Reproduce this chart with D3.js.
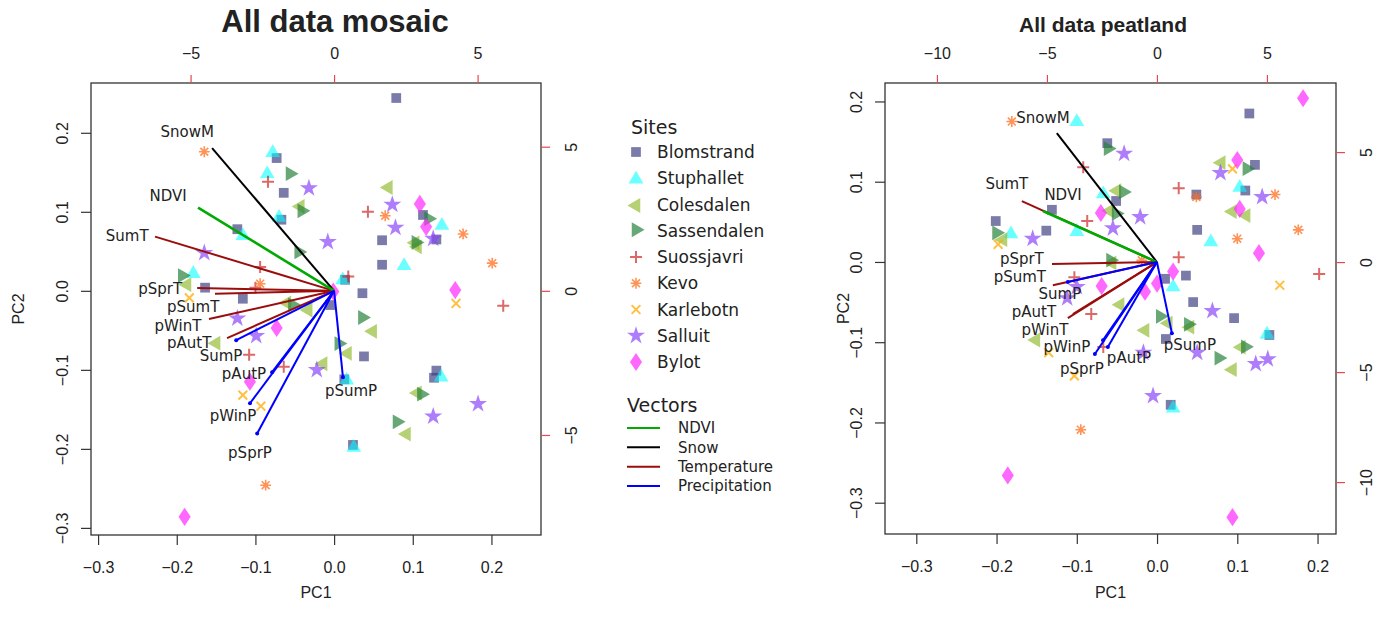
<!DOCTYPE html>
<html>
<head>
<meta charset="utf-8">
<script src="https://cdn.jsdelivr.net/npm/d3@7"></script>
<style>
  body { margin: 0; background: #fff; }
  svg text { font-family: "DejaVu Sans", sans-serif; fill: #222; }
  .axis text { font-family: "Liberation Sans", Arial, sans-serif; font-size: 16px; fill: #222; }
</style>
</head>
<body>
<svg id="chart" width="1385" height="617"></svg>
<script>
(function () {

  // sites, in legend order
  const sites = ['Blomstrand', 'Stuphallet', 'Colesdalen', 'Sassendalen', 'Suossjavri',
                 'Kevo', 'Karlebotn', 'Salluit', 'Bylot'];

  // vectors
  const vectorNames = ['SnowM', 'NDVI', 'SumT', 'pSprT', 'pSumT', 'pWinT', 'pAutT',
                       'SumP', 'pAutP', 'pWinP', 'pSprP', 'pSumP'];
  const vectorGroups = ['Snow', 'NDVI', 'Temperature', 'Temperature', 'Temperature', 'Temperature',
                        'Temperature', 'Precipitation', 'Precipitation', 'Precipitation',
                        'Precipitation', 'Precipitation'];
  const legendGroups = ['NDVI', 'Snow', 'Temperature', 'Precipitation'];

  // tick labels
  const pcTicks = [-0.3, -0.2, -0.1, 0.0, 0.1, 0.2];
  const mosaicTicks2 = [-5, 0, 5];
  const peatTicks2 = [-10, -5, 0, 5];

  // ---- All data mosaic ----
  // site scores [site, PC1, PC2]
  const mosaicPoints = [
    ['Blomstrand', -0.073, 0.168], ['Blomstrand', -0.064, 0.124], ['Blomstrand', -0.067, 0.090],
    ['Blomstrand', -0.123, 0.078], ['Blomstrand', -0.164, 0.004], ['Blomstrand', -0.116, -0.010],
    ['Blomstrand', -0.005, -0.018], ['Blomstrand', 0.038, -0.083], ['Blomstrand', 0.036, -0.003],
    ['Blomstrand', 0.061, 0.033], ['Blomstrand', 0.061, 0.064], ['Blomstrand', 0.014, 0.014],
    ['Blomstrand', 0.013, -0.112], ['Blomstrand', 0.130, -0.101], ['Blomstrand', 0.127, -0.110],
    ['Blomstrand', 0.024, -0.195], ['Blomstrand', 0.079, 0.244], ['Blomstrand', 0.113, 0.096],
    ['Blomstrand', 0.130, 0.065],
    ['Stuphallet', -0.078, 0.176], ['Stuphallet', -0.085, 0.149], ['Stuphallet', -0.070, 0.094],
    ['Stuphallet', -0.116, 0.071], ['Stuphallet', -0.179, 0.023], ['Stuphallet', 0.011, 0.015],
    ['Stuphallet', 0.016, -0.112], ['Stuphallet', 0.136, -0.108], ['Stuphallet', 0.025, -0.197],
    ['Stuphallet', 0.089, 0.033], ['Stuphallet', 0.137, 0.084],
    ['Colesdalen', -0.043, 0.108], ['Colesdalen', -0.187, 0.009], ['Colesdalen', -0.060, -0.014],
    ['Colesdalen', -0.033, -0.023], ['Colesdalen', -0.150, -0.065], ['Colesdalen', -0.014, -0.091],
    ['Colesdalen', 0.017, -0.078], ['Colesdalen', 0.049, -0.050], ['Colesdalen', 0.106, -0.128],
    ['Colesdalen', 0.092, -0.180], ['Colesdalen', 0.069, 0.132], ['Colesdalen', 0.103, 0.062],
    ['Colesdalen', 0.106, 0.057],
    ['Sassendalen', -0.056, 0.147], ['Sassendalen', -0.041, 0.100], ['Sassendalen', -0.045, 0.048],
    ['Sassendalen', -0.193, 0.018], ['Sassendalen', -0.053, -0.019], ['Sassendalen', 0.006, -0.068],
    ['Sassendalen', 0.036, -0.035], ['Sassendalen', 0.111, -0.132], ['Sassendalen', 0.080, -0.167],
    ['Sassendalen', 0.120, 0.090], ['Sassendalen', 0.104, 0.060],
    ['Suossjavri', -0.084, 0.138], ['Suossjavri', -0.094, 0.030], ['Suossjavri', -0.100, 0.004],
    ['Suossjavri', -0.108, -0.081], ['Suossjavri', -0.064, -0.096], ['Suossjavri', 0.043, 0.100],
    ['Suossjavri', 0.018, 0.018], ['Suossjavri', 0.215, -0.019],
    ['Kevo', -0.165, 0.176], ['Kevo', -0.094, 0.009], ['Kevo', -0.087, -0.246],
    ['Kevo', 0.065, 0.095], ['Kevo', 0.164, 0.072], ['Kevo', 0.201, 0.035],
    ['Karlebotn', -0.184, -0.009], ['Karlebotn', -0.116, -0.132], ['Karlebotn', -0.093, -0.146],
    ['Karlebotn', 0.155, -0.016],
    ['Salluit', -0.032, 0.130], ['Salluit', -0.008, 0.062], ['Salluit', -0.165, 0.048],
    ['Salluit', -0.123, -0.035], ['Salluit', -0.099, -0.057], ['Salluit', -0.022, -0.100],
    ['Salluit', 0.074, 0.109], ['Salluit', 0.078, 0.080], ['Salluit', 0.126, 0.066],
    ['Salluit', 0.183, -0.143], ['Salluit', 0.126, -0.159],
    ['Bylot', -0.073, -0.047], ['Bylot', -0.107, -0.115], ['Bylot', -0.190, -0.286],
    ['Bylot', 0.109, 0.110], ['Bylot', 0.117, 0.081], ['Bylot', 0.154, 0.001],
    ['Bylot', -0.001, -0.001]
  ];
  // vector tips and label spots, on the top/right scale
  const mosaicVecX = [-4.25, -4.74, -6.24, -4.77, -4.15, -4.36, -3.73, -3.41, -2.16, -2.93, -2.68, 0.31];
  const mosaicVecY = [4.95, 2.89, 1.88, 0.10, -0.10, -0.98, -1.64, -1.71, -2.82, -3.90, -4.95, -3.00];
  const mosaicLabX = [-5.12, -5.78, -7.21, -6.06, -4.91, -5.44, -5.05, -3.94, -3.14, -3.52, -2.93, 0.59];
  const mosaicLabY = [5.54, 3.31, 1.92, 0.07, -0.56, -1.22, -1.81, -2.25, -2.86, -4.32, -5.61, -3.45];

  // ---- All data peatland ----
  const peatPoints = [
    ['Blomstrand', -0.062, 0.148], ['Blomstrand', -0.051, 0.076], ['Blomstrand', -0.131, 0.065],
    ['Blomstrand', -0.138, 0.039], ['Blomstrand', -0.201, 0.051], ['Blomstrand', 0.010, -0.021],
    ['Blomstrand', 0.036, -0.017], ['Blomstrand', 0.045, -0.050], ['Blomstrand', 0.096, -0.070],
    ['Blomstrand', 0.011, -0.096], ['Blomstrand', 0.017, -0.178], ['Blomstrand', 0.115, 0.185],
    ['Blomstrand', 0.122, 0.121], ['Blomstrand', 0.049, 0.084], ['Blomstrand', 0.110, 0.089],
    ['Blomstrand', 0.050, 0.040], ['Blomstrand', 0.140, -0.091],
    ['Stuphallet', -0.100, 0.176], ['Stuphallet', -0.067, 0.086], ['Stuphallet', -0.100, 0.039],
    ['Stuphallet', -0.182, 0.036], ['Stuphallet', 0.020, -0.030], ['Stuphallet', 0.020, -0.181],
    ['Stuphallet', 0.103, 0.094], ['Stuphallet', 0.067, 0.026], ['Stuphallet', 0.137, -0.089],
    ['Colesdalen', -0.050, 0.090], ['Colesdalen', -0.059, 0.065], ['Colesdalen', -0.192, 0.029],
    ['Colesdalen', -0.056, 0.000], ['Colesdalen', -0.046, -0.052], ['Colesdalen', 0.014, -0.075],
    ['Colesdalen', -0.015, -0.084], ['Colesdalen', 0.041, -0.080], ['Colesdalen', 0.094, -0.133],
    ['Colesdalen', -0.151, -0.096], ['Colesdalen', 0.080, 0.125], ['Colesdalen', 0.094, 0.064],
    ['Colesdalen', 0.111, 0.059], ['Colesdalen', 0.105, -0.105],
    ['Sassendalen', -0.061, 0.140], ['Sassendalen', -0.042, 0.086], ['Sassendalen', -0.051, 0.059],
    ['Sassendalen', -0.200, 0.035], ['Sassendalen', -0.058, 0.001], ['Sassendalen', 0.004, -0.069],
    ['Sassendalen', 0.039, -0.079], ['Sassendalen', 0.077, -0.121], ['Sassendalen', 0.112, 0.115],
    ['Sassendalen', 0.110, -0.107],
    ['Suossjavri', -0.092, 0.118], ['Suossjavri', -0.087, 0.051], ['Suossjavri', -0.103, -0.019],
    ['Suossjavri', 0.027, 0.006], ['Suossjavri', -0.082, -0.065], ['Suossjavri', -0.067, -0.106],
    ['Suossjavri', 0.027, 0.092], ['Suossjavri', 0.202, -0.015],
    ['Kevo', -0.181, 0.175], ['Kevo', -0.019, 0.002], ['Kevo', -0.095, -0.209],
    ['Kevo', 0.049, 0.081], ['Kevo', 0.147, 0.084], ['Kevo', 0.100, 0.029], ['Kevo', 0.176, 0.040],
    ['Karlebotn', -0.198, 0.022], ['Karlebotn', -0.135, -0.113], ['Karlebotn', -0.103, -0.142],
    ['Karlebotn', 0.094, 0.116], ['Karlebotn', 0.153, -0.029],
    ['Salluit', -0.041, 0.135], ['Salluit', -0.021, 0.056], ['Salluit', -0.055, 0.042],
    ['Salluit', -0.155, 0.029], ['Salluit', -0.100, -0.031], ['Salluit', -0.112, -0.045],
    ['Salluit', 0.069, -0.061], ['Salluit', 0.050, -0.113], ['Salluit', -0.017, -0.113],
    ['Salluit', -0.005, -0.167], ['Salluit', 0.079, 0.111], ['Salluit', 0.131, 0.081],
    ['Salluit', 0.123, -0.127], ['Salluit', 0.138, -0.121],
    ['Bylot', -0.070, 0.061], ['Bylot', -0.069, -0.030], ['Bylot', -0.015, -0.037],
    ['Bylot', 0.000, -0.027], ['Bylot', 0.020, -0.012], ['Bylot', 0.182, 0.204],
    ['Bylot', 0.100, 0.127], ['Bylot', 0.103, 0.066], ['Bylot', 0.127, 0.011],
    ['Bylot', -0.186, -0.266], ['Bylot', 0.094, -0.318]
  ];
  const peatVecX = [-4.55, -5.18, -6.14, -4.77, -4.73, -3.82, -4.05, -4.05, -2.23, -2.45, -2.82, 0.68];
  const peatVecY = [5.86, 2.32, 2.77, -0.09, -1.05, -2.36, -2.55, -0.91, -3.86, -3.55, -4.18, -3.23];
  const peatLabX = [-5.18, -4.27, -6.82, -6.14, -6.23, -5.09, -5.59, -4.41, -1.27, -4.09, -3.41, 1.50];
  const peatLabY = [6.55, 3.05, 3.59, 0.14, -0.64, -3.09, -2.27, -1.45, -4.32, -3.86, -4.86, -3.77];


  //////////////////////////////////////////////////////////////////////////////
  // styles

  const siteColor = {
    'Blomstrand': 'rgba(60,60,130,0.68)',
    'Stuphallet': 'rgba(0,255,255,0.58)',
    'Colesdalen': 'rgba(150,190,55,0.7)',
    'Sassendalen': 'rgba(40,130,60,0.7)',
    'Suossjavri': 'rgba(205,40,40,0.7)',
    'Kevo': 'rgba(255,110,30,0.75)',
    'Karlebotn': 'rgba(255,170,0,0.75)',
    'Salluit': 'rgba(140,70,250,0.7)',
    'Bylot': 'rgba(255,40,255,0.7)'
  };
  const groupColor = {
    'NDVI': '#00aa00',
    'Snow': '#000000',
    'Temperature': '#9b0d0d',
    'Precipitation': '#0000ff'
  };
  // which vector groups get drawn first
  const drawOrder = ['Temperature', 'Snow', 'NDVI', 'Precipitation'];

  // marker shape for each site
  function sitePath(site) {
    switch (site) {
      case 'Blomstrand': return d3.symbol(d3.symbolSquare, 95)();
      case 'Stuphallet':
      case 'Colesdalen':
      case 'Sassendalen': return d3.symbol(d3.symbolTriangle, 95)();
      case 'Suossjavri': return d3.symbol(d3.symbolPlus, 49)();
      case 'Kevo': return d3.symbol(d3.symbolPlus, 40)() + d3.symbol(d3.symbolTimes, 42)();
      case 'Karlebotn': return d3.symbol(d3.symbolTimes, 52)();
      case 'Salluit': return d3.symbol(d3.symbolStar, 100)();
      case 'Bylot': return d3.symbol(d3.symbolDiamond, 96)();
    }
  }
  function siteTransform(site) {
    if (site === 'Colesdalen') return ' rotate(-90) translate(-1,0)';
    if (site === 'Sassendalen') return ' rotate(90) translate(-1,0)';
    if (site === 'Stuphallet') return ' translate(0,1)';
    if (site === 'Bylot') return ' scale(1.15,1)';
    return '';
  }
  const strokeSites = ['Suossjavri', 'Kevo', 'Karlebotn'];

  function drawSymbol(sel, site) {
    const stroked = strokeSites.includes(site);
    sel.attr('d', sitePath(site))
      .attr('fill', stroked ? 'none' : siteColor[site])
      .attr('stroke', stroked ? siteColor[site] : 'none')
      .attr('stroke-width', stroked ? (site === 'Kevo' ? 1.6 : 2) : 0);
  }

  const svg = d3.select('#chart');
  const fmt1 = d3.format('.1f');
  const fmt0 = d3.format('d');


  ///////////
  // panel //
  ///////////

  function drawPanel(cfg) {
    const g = svg.append('g');

    const x = d3.scaleLinear().domain(cfg.lim).range([cfg.left, cfg.right]);
    const y = d3.scaleLinear().domain(cfg.lim).range([cfg.bottom, cfg.top]);
    const x2 = d3.scaleLinear().domain(cfg.lim2).range([cfg.left, cfg.right]);
    const y2 = d3.scaleLinear().domain(cfg.lim2).range([cfg.bottom, cfg.top]);

    // points
    g.append('g')
      .selectAll('path')
      .data(cfg.points)
      .enter()
      .append('path')
      .each(function (d) { drawSymbol(d3.select(this), d[0]); })
      .attr('transform', d => `translate(${x(d[1])},${y(d[2])})` + siteTransform(d[0]));

    // vectors
    const vec = vectorNames.map((name, i) => ({
      name: name, group: vectorGroups[i],
      vx: cfg.vecX[i], vy: cfg.vecY[i], lx: cfg.labX[i], ly: cfg.labY[i]
    }));
    const vecSorted = vec.slice().sort((a, b) =>
      drawOrder.indexOf(a.group) - drawOrder.indexOf(b.group));

    g.append('g')
      .selectAll('line')
      .data(vecSorted)
      .enter()
      .append('line')
      .attr('x1', x2(0)).attr('y1', y2(0))
      .attr('x2', d => x2(d.vx)).attr('y2', d => y2(d.vy))
      .attr('stroke', d => groupColor[d.group])
      .attr('stroke-width', d => d.group === 'NDVI' ? 2.6 : 2);

    g.append('g')
      .selectAll('circle')
      .data(vec.filter(d => d.group === 'Precipitation'))
      .enter()
      .append('circle')
      .attr('cx', d => x2(d.vx)).attr('cy', d => y2(d.vy))
      .attr('r', 2)
      .attr('fill', groupColor.Precipitation);

    g.append('g')
      .selectAll('text')
      .data(vec)
      .enter()
      .append('text')
      .attr('x', d => x2(d.lx)).attr('y', d => y2(d.ly))
      .attr('text-anchor', 'middle')
      .attr('dy', '0.36em')
      .style('font-size', '15px')
      .text(d => d.name);

    // box
    g.append('rect')
      .attr('x', cfg.left).attr('y', cfg.top)
      .attr('width', cfg.right - cfg.left).attr('height', cfg.bottom - cfg.top)
      .attr('fill', 'none').attr('stroke', '#333').attr('stroke-width', 1.3);

    // bottom axis
    const ax1 = g.append('g').attr('class', 'axis')
      .attr('transform', `translate(0,${cfg.bottom})`)
      .call(d3.axisBottom(x).tickValues(pcTicks).tickFormat(fmt1).tickSize(10).tickPadding(17));

    // left axis, labels parallel to the axis
    const ax2 = g.append('g').attr('class', 'axis')
      .attr('transform', `translate(${cfg.left},0)`)
      .call(d3.axisLeft(y).tickValues(pcTicks).tickFormat(fmt1).tickSize(10));
    ax2.selectAll('.tick text')
      .attr('transform', 'rotate(-90)')
      .attr('x', 0).attr('y', -23).attr('dy', 0)
      .attr('text-anchor', 'middle');

    // top axis (red ticks)
    const ax3 = g.append('g').attr('class', 'axis')
      .attr('transform', `translate(0,${cfg.top})`)
      .call(d3.axisTop(x2).tickValues(cfg.ticks2).tickFormat(fmt0).tickSize(8).tickPadding(16));

    // right axis (red ticks)
    const ax4 = g.append('g').attr('class', 'axis')
      .attr('transform', `translate(${cfg.right},0)`)
      .call(d3.axisRight(y2).tickValues(cfg.ticks2).tickFormat(fmt0).tickSize(9));
    ax4.selectAll('.tick text')
      .attr('transform', 'rotate(-90)')
      .attr('x', 0).attr('y', 36).attr('dy', 0)
      .attr('text-anchor', 'middle');

    [ax1, ax2, ax3, ax4].forEach(a => {
      a.select('.domain').remove();
      a.selectAll('.tick line').attr('stroke', '#333').attr('stroke-width', 1.2);
    });
    [ax3, ax4].forEach(a => a.selectAll('.tick line').attr('stroke', '#e8474d'));

    // titles
    g.append('text')
      .attr('x', cfg.titleX).attr('y', cfg.titleY)
      .attr('text-anchor', 'middle')
      .style('font-family', '"Liberation Sans", Arial, sans-serif')
      .style('font-weight', 'bold')
      .style('font-size', cfg.titleSize + 'px')
      .attr('fill', '#111')
      .text(cfg.title);

    g.append('text')
      .attr('x', (cfg.left + cfg.right) / 2).attr('y', 598)
      .attr('text-anchor', 'middle')
      .style('font-family', '"Liberation Sans", Arial, sans-serif')
      .style('font-size', '16px')
      .text('PC1');

    g.append('text')
      .attr('transform', `translate(${cfg.yLabelX},${(cfg.top + cfg.bottom) / 2}) rotate(-90)`)
      .attr('text-anchor', 'middle')
      .attr('dy', '0.36em')
      .style('font-family', '"Liberation Sans", Arial, sans-serif')
      .style('font-size', '16px')
      .text('PC2');
  }

  drawPanel({
    title: 'All data mosaic', titleX: 335, titleY: 32, titleSize: 31,
    left: 91, right: 541, top: 83, bottom: 535, yLabelX: 18,
    lim: [-0.309, 0.263], lim2: [-8.47, 7.21], ticks2: mosaicTicks2,
    points: mosaicPoints,
    vecX: mosaicVecX, vecY: mosaicVecY, labX: mosaicLabX, labY: mosaicLabY
  });

  drawPanel({
    title: 'All data peatland', titleX: 1103, titleY: 32, titleSize: 21,
    left: 885, right: 1336, top: 83, bottom: 534, yLabelX: 843,
    lim: [-0.339, 0.223], lim2: [-12.36, 8.14], ticks2: peatTicks2,
    points: peatPoints,
    vecX: peatVecX, vecY: peatVecY, labX: peatLabX, labY: peatLabY
  });


  ////////////
  // legend //
  ////////////

  const legend = svg.append('g');

  legend.append('text')
    .attr('x', 631).attr('y', 127).attr('dy', '0.36em')
    .style('font-size', '19px')
    .text('Sites');

  const siteRow = d3.scaleLinear().domain([0, sites.length - 1]).range([152, 362]);

  const items = legend.selectAll('g.site')
    .data(sites)
    .enter()
    .append('g')
    .attr('class', 'site')
    .attr('transform', (d, i) => `translate(636,${siteRow(i)})`);

  items.append('path')
    .each(function (d) { drawSymbol(d3.select(this), d); })
    .attr('transform', d => siteTransform(d));

  items.append('text')
    .attr('x', 21).attr('dy', '0.36em')
    .style('font-size', '17px')
    .text(d => d);

  legend.append('text')
    .attr('x', 627).attr('y', 405).attr('dy', '0.36em')
    .style('font-size', '19px')
    .text('Vectors');

  const vecRow = d3.scaleLinear().domain([0, legendGroups.length - 1]).range([428, 486]);

  const vItems = legend.selectAll('g.vec')
    .data(legendGroups)
    .enter()
    .append('g')
    .attr('class', 'vec')
    .attr('transform', (d, i) => `translate(627,${vecRow(i)})`);

  vItems.append('line')
    .attr('x1', 0).attr('x2', 33)
    .attr('stroke', d => groupColor[d])
    .attr('stroke-width', 2);

  vItems.append('text')
    .attr('x', 51).attr('dy', '0.36em')
    .style('font-size', '15px')
    .text(d => d);

})();
</script>
</body>
</html>
